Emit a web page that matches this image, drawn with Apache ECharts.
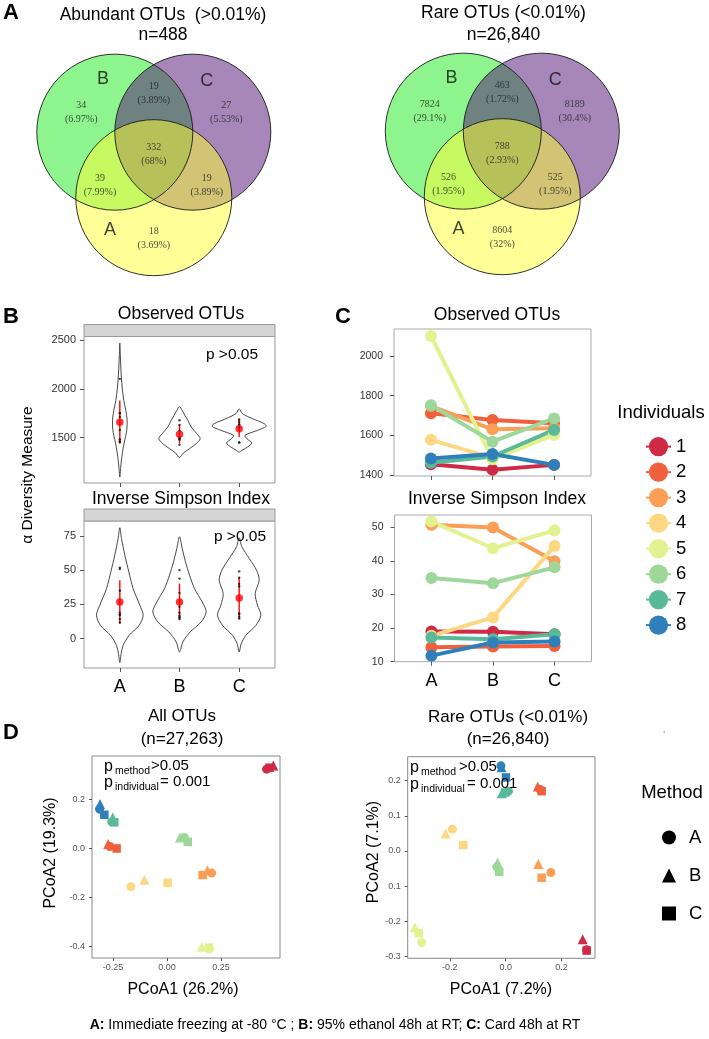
<!DOCTYPE html>
<html><head><meta charset="utf-8">
<script src="https://cdn.jsdelivr.net/npm/echarts@6/dist/echarts.min.js"></script>
<style>html,body{margin:0;padding:0;background:#fff}#c{width:709px;height:1039px}</style>
</head><body><div id="c"></div>
<script>
// ---------------- DATA ----------------
const methods = ['A', 'B', 'C'];
const individuals = ['1', '2', '3', '4', '5', '6', '7', '8'];

// Venn regions order: B only, B∩C, C only, A∩B, A∩B∩C, A∩C, A only
const abundantCounts = [34, 19, 27, 39, 332, 19, 18];
const abundantPct = ['6.97%', '3.89%', '5.53%', '7.99%', '68%', '3.89%', '3.69%'];
const rareCounts = [7824, 463, 8189, 526, 788, 525, 8604];
const rarePct = ['29.1%', '1.72%', '30.4%', '1.95%', '2.93%', '1.95%', '32%'];
const vennSetNames = ['B', 'C', 'A'];

// Panel C: one row per individual, values for methods A, B, C
const observedOTUs = [
  [1455, 1427, 1452],
  [1712, 1678, 1661],
  [1748, 1631, 1636],
  [1578, 1487, 1605],
  [2101, 1480, 1603],
  [1752, 1569, 1686],
  [1463, 1494, 1628],
  [1484, 1507, 1452]
];
const inverseSimpson = [
  [19.0, 18.9, 18.2],
  [14.3, 14.5, 14.7],
  [50.8, 50.0, 39.9],
  [17.7, 23.2, 44.5],
  [51.8, 43.8, 49.1],
  [34.9, 33.4, 38.1],
  [17.2, 16.7, 18.2],
  [11.8, 15.7, 16.0]
];

// Panel B violins: outline [value, half width] for methods A, B, C
const violinObserved = [
  [[2466,0],[2350,0.008],[2200,0.018],[2100,0.028],[2000,0.042],[1880,0.067],[1780,0.10],[1700,0.12],[1620,0.122],[1550,0.11],[1480,0.085],[1400,0.058],[1300,0.033],[1200,0.015],[1098,0]],
  [[1818,0],[1779,0.045],[1728,0.09],[1677,0.14],[1609,0.196],[1541,0.29],[1490,0.346],[1439,0.28],[1388,0.168],[1344,0.067],[1298,0]],
  [[1793,0],[1745,0.056],[1694,0.223],[1643,0.42],[1616,0.453],[1575,0.307],[1524,0.095],[1490,0.13],[1446,0.21],[1405,0.14],[1370,0.045],[1352,0]]
];
const violinInvSimpson = [
  [[80.9,0],[73.1,0.028],[60.9,0.084],[48.7,0.151],[36.5,0.223],[24.4,0.335],[17.1,0.391],[9.7,0.324],[2.4,0.156],[-4.9,0.056],[-11,0.022],[-17.5,0]],
  [[74.3,0],[65.8,0.045],[56,0.10],[46.3,0.168],[36.5,0.251],[26.8,0.38],[19.5,0.447],[12.2,0.363],[4.9,0.179],[-2.4,0.056],[-9.7,0]],
  [[73.6,0],[67,0.045],[58.5,0.168],[50,0.29],[42.6,0.335],[32.9,0.268],[24.4,0.307],[17.1,0.363],[9.7,0.28],[2.4,0.112],[-3.7,0.034],[-9.7,0]]
];
// mean, lower, upper for A, B, C
const meanSdObserved = [[1659, 1439, 1880], [1534, 1439, 1633], [1592, 1506, 1694]];
const meanSdInvSimpson = [[26.8, 11, 42.6], [26.8, 13.4, 40.2], [29.7, 14.6, 45]];

// Panel D: PCoA coordinates per method, rows = individuals 1..8
const pcoaAllA = [[0.461,0.325],[-0.264,0.008],[0.207,-0.101],[-0.167,-0.157],[0.196,-0.412],[0.080,0.045],[-0.256,0.109],[-0.312,0.161]];
const pcoaAllB = [[0.492,0.340],[-0.272,0.018],[0.187,-0.089],[-0.105,-0.128],[0.161,-0.403],[0.060,0.045],[-0.251,0.127],[-0.310,0.182]];
const pcoaAllC = [[0.475,0.331],[-0.233,0.000],[0.165,-0.109],[0.003,-0.141],[0.194,-0.406],[0.096,0.027],[-0.244,0.107],[-0.290,0.138]];
const pcoaRareA = [[0.290,-0.281],[0.123,0.175],[0.162,-0.061],[-0.191,0.062],[-0.301,-0.260],[-0.032,-0.045],[0.010,0.170],[-0.017,0.242]];
const pcoaRareB = [[0.276,-0.251],[0.115,0.183],[0.117,-0.037],[-0.215,0.050],[-0.325,-0.217],[-0.029,-0.033],[-0.014,0.164],[-0.015,0.238]];
const pcoaRareC = [[0.290,-0.283],[0.129,0.170],[0.129,-0.076],[-0.152,0.017],[-0.311,-0.234],[-0.023,-0.059],[-0.002,0.166],[0.001,0.209]];

// Tick values and labels
const obsBTicks = [1500, 2000, 2500];
const invBTicks = [0, 25, 50, 75];
const obsCTicks = [1400, 1600, 1800, 2000];
const invCTicks = [10, 20, 30, 40, 50];
const allXTicks = [-0.25, 0, 0.25];
const allXLabels = ['-0.25', '0.00', '0.25'];
const allYTicks = [-0.4, -0.2, 0, 0.2];
const allYLabels = ['-0.4', '-0.2', '0.0', '0.2'];
const rareXTicks = [-0.2, 0, 0.2];
const rareXLabels = ['-0.2', '0.0', '0.2'];
const rareYTicks = [-0.3, -0.2, -0.1, 0, 0.1, 0.2];
const rareYLabels = ['-0.3', '-0.2', '0.1', '0.0', '0.1', '0.2'];

// ---------------- STYLE / LAYOUT ----------------
const FONT = '"Liberation Sans", Arial, Helvetica, sans-serif';
const SERIF = '"Liberation Serif", "Times New Roman", serif';
const indColors = ['#CF2A45', '#F0603C', '#FA9F55', '#FDD782', '#E3F290', '#9ED79A', '#58BA98', '#2F80BA'];
const vennFills = ['rgba(30,235,30,0.5)', 'rgba(80,15,115,0.5)', 'rgba(255,255,50,0.5)'];
const vennCenters = [[-0.5, 0.28], [0.5, 0.28], [0, -0.56]];
const vennRegionPos = [[-0.93, 0.53], [0, 0.78], [0.93, 0.53], [-0.69, -0.40], [0, 0], [0.68, -0.40], [0, -1.08]];
const vennLetterPos = [[-0.65, 0.96], [0.68, 0.93], [-0.56, -0.98]];
const methodSymbols = ['circle', 'triangle', 'rect'];
const methodSizes = [9, 10, 8.5];

function lookup(values, labels) {
  return v => { const i = values.findIndex(t => Math.abs(t - v) < 1e-9); return i < 0 ? '' : labels[i]; };
}

const gridBase = { show: true, borderColor: '#9a9a9a', borderWidth: 1, backgroundColor: 'transparent', containLabel: false, outerBoundsMode: 'none' };
const grid = [
  { left: 13.4, top: 13.6, width: 280.8, height: 280.8, show: false, containLabel: false, outerBoundsMode: 'none' },
  { left: 361.9, top: 12.6, width: 280.8, height: 280.8, show: false, containLabel: false, outerBoundsMode: 'none' },
  Object.assign({ left: 84, top: 336.5, width: 191, height: 146.5 }, gridBase),
  Object.assign({ left: 84, top: 521, width: 191, height: 147 }, gridBase),
  Object.assign({ left: 394, top: 329, width: 197, height: 147 }, gridBase, { borderColor: '#aaa' }),
  Object.assign({ left: 394.5, top: 515, width: 197, height: 146.7 }, gridBase, { borderColor: '#aaa' }),
  Object.assign({ left: 92, top: 756, width: 188, height: 202 }, gridBase, { borderColor: '#888' }),
  Object.assign({ left: 407.7, top: 756.7, width: 187.3, height: 201.6 }, gridBase, { borderColor: '#888' })
];

function hiddenAxis(gi) { return { gridIndex: gi, type: 'value', min: -1.8, max: 1.8, show: false }; }
function methodXAxis(gi, showLabels) {
  return {
    gridIndex: gi, type: 'value', min: 0.4, max: 3.6,
    axisLine: { show: false, onZero: false }, splitLine: { show: false },
    axisTick: { show: true, customValues: [1, 2, 3], length: 4, lineStyle: { color: '#555' } },
    axisLabel: { show: showLabels, customValues: [1, 2, 3], formatter: v => methods[Math.round(v) - 1], fontSize: 18, color: '#000', margin: 10, fontFamily: FONT }
  };
}
function valAxis(gi, min, max, ticks, fmt, size, color, margin, tickLen) {
  return {
    gridIndex: gi, type: 'value', min, max,
    axisLine: { show: false, onZero: false }, splitLine: { show: false },
    axisTick: { show: true, customValues: ticks, length: tickLen, lineStyle: { color: '#555' } },
    axisLabel: { customValues: ticks, formatter: fmt, fontSize: size, color, margin, fontFamily: FONT }
  };
}

const xAxis = [
  hiddenAxis(0), hiddenAxis(1),
  methodXAxis(2, false), methodXAxis(3, true),
  methodXAxis(4, false), methodXAxis(5, true),
  valAxis(6, -0.347, 0.523, allXTicks, lookup(allXTicks, allXLabels), 9, '#555', 5, 3),
  valAxis(7, -0.351, 0.320, rareXTicks, lookup(rareXTicks, rareXLabels), 9, '#555', 5, 3)
];
const yAxis = [
  hiddenAxis(0), hiddenAxis(1),
  valAxis(2, 1037, 2534, obsBTicks, v => String(v), 11, '#333', 8, 4),
  valAxis(3, -21.4, 85.8, invBTicks, v => String(v), 11, '#333', 8, 4),
  valAxis(4, 1396, 2136, obsCTicks, v => String(v), 10.5, '#333', 11, 4),
  valAxis(5, 10, 53.7, invCTicks, v => String(v), 10.5, '#333', 11, 4),
  valAxis(6, -0.449, 0.379, allYTicks, lookup(allYTicks, allYLabels), 9, '#555', 7, 3),
  valAxis(7, -0.305, 0.268, rareYTicks, lookup(rareYTicks, rareYLabels), 9, '#555', 7, 3)
];

const series = [];

// ---- Venn diagrams ----
function addVenn(gi, counts, pct) {
  series.push({
    type: 'custom', xAxisIndex: gi, yAxisIndex: gi, silent: true, clip: false, z: 1,
    data: vennCenters.map((c, i) => [c[0], c[1], i]),
    renderItem: (p, api) => {
      const c = api.coord([api.value(0), api.value(1)]);
      const r = api.size([1, 1])[0];
      return { type: 'circle', shape: { cx: c[0], cy: c[1], r }, style: { fill: vennFills[api.value(2)] } };
    }
  });
  series.push({
    type: 'custom', xAxisIndex: gi, yAxisIndex: gi, silent: true, clip: false, z: 2,
    data: vennCenters.map((c, i) => [c[0], c[1], i]),
    renderItem: (p, api) => {
      const c = api.coord([api.value(0), api.value(1)]);
      const r = api.size([1, 1])[0];
      return { type: 'circle', shape: { cx: c[0], cy: c[1], r }, style: { fill: 'none', stroke: '#1a1a1a', lineWidth: 0.9 } };
    }
  });
  series.push({
    type: 'scatter', name: 'venn-regions', xAxisIndex: gi, yAxisIndex: gi, silent: true, z: 3,
    symbolSize: 1, itemStyle: { color: 'transparent' },
    data: vennRegionPos.map((p, i) => ({ value: p, label: { formatter: counts[i] + '\n(' + pct[i] + ')' } })),
    label: { show: true, position: 'inside', fontFamily: SERIF, fontSize: 10, lineHeight: 14, color: '#222' }
  });
  series.push({
    type: 'scatter', name: 'venn-sets', xAxisIndex: gi, yAxisIndex: gi, silent: true, z: 3,
    symbolSize: 1, itemStyle: { color: 'transparent' },
    data: vennLetterPos.map((p, i) => ({ value: p, label: { formatter: vennSetNames[i] } })),
    label: { show: true, position: 'inside', fontFamily: FONT, fontSize: 18, color: '#111' }
  });
}
addVenn(0, abundantCounts, abundantPct);
addVenn(1, rareCounts, rarePct);

// ---- Violin panels ----
function addViolins(gi, outlines, meanSd, values) {
  series.push({
    type: 'custom', xAxisIndex: gi, yAxisIndex: gi, silent: true, clip: false,
    data: meanSd.map((m, i) => [i + 1, m[0]]),
    renderItem: (p, api) => {
      const o = outlines[p.dataIndex];
      const cx = api.value(0);
      const right = o.map(([v, hw]) => api.coord([cx + hw, v]));
      const left = o.slice(1, -1).reverse().map(([v, hw]) => api.coord([cx - hw, v]));
      return { type: 'polygon', shape: { points: right.concat(left), smooth: 0.3 }, style: { fill: 'none', stroke: '#333', lineWidth: 0.9 } };
    }
  });
  series.push({
    type: 'custom', xAxisIndex: gi, yAxisIndex: gi, silent: true, clip: false,
    data: meanSd.map((m, i) => [i + 1, m[0], m[1], m[2]]),
    renderItem: (p, api) => {
      const x = api.value(0);
      const lo = api.coord([x, api.value(2)]);
      const hi = api.coord([x, api.value(3)]);
      return { type: 'line', shape: { x1: lo[0], y1: lo[1], x2: hi[0], y2: hi[1] }, style: { stroke: '#f00', lineWidth: 1.4 } };
    }
  });
  const dots = [];
  values.forEach(row => row.forEach((v, j) => dots.push([j + 1, v])));
  series.push({
    type: 'scatter', name: 'dots', xAxisIndex: gi, yAxisIndex: gi, silent: true,
    symbolSize: 2.4, itemStyle: { color: '#111' }, data: dots
  });
  series.push({
    type: 'scatter', name: 'mean', xAxisIndex: gi, yAxisIndex: gi, silent: true,
    symbolSize: 7.5, itemStyle: { color: '#f00' }, data: meanSd.map((m, i) => [i + 1, m[0]])
  });
}
addViolins(2, violinObserved, meanSdObserved, observedOTUs);
addViolins(3, violinInvSimpson, meanSdInvSimpson, inverseSimpson);

// ---- Line panels ----
function addLines(gi, values) {
  values.forEach((row, i) => {
    series.push({
      type: 'line', name: individuals[i], xAxisIndex: gi, yAxisIndex: gi, silent: true,
      data: row.map((v, j) => [j + 1, v]),
      symbol: 'circle', symbolSize: 12, showSymbol: true,
      lineStyle: { width: 4, color: indColors[i] },
      itemStyle: { color: indColors[i] }
    });
  });
}
addLines(4, observedOTUs);
addLines(5, inverseSimpson);

// ---- PCoA panels ----
function addPcoa(gi, sets) {
  sets.forEach((pts, m) => {
    series.push({
      type: 'scatter', name: methods[m], xAxisIndex: gi, yAxisIndex: gi, silent: true,
      symbol: methodSymbols[m], symbolSize: methodSizes[m],
      data: pts.map((p, i) => [p[0], p[1], i]),
      itemStyle: { color: p => indColors[p.value[2]], opacity: 1 }
    });
  });
}
addPcoa(6, [pcoaAllA, pcoaAllB, pcoaAllC]);
addPcoa(7, [pcoaRareA, pcoaRareB, pcoaRareC]);

// ---- Text / decorations ----
function txt(x, y, text, size, o) {
  o = o || {};
  return {
    type: 'text', x, y, rotation: o.rot || 0, z: 100, silent: true,
    style: {
      text, x: 0, y: 0, fill: o.color || '#000', fontSize: size, fontFamily: o.family || FONT,
      fontWeight: o.weight || 'normal', align: o.align || 'center', verticalAlign: o.va || 'middle'
    }
  };
}
const graphic = [
  { type: 'rect', silent: true, z: 50, shape: { x: 84, y: 324.5, width: 191, height: 12 }, style: { fill: '#d4d4d4', stroke: '#9a9a9a', lineWidth: 1 } },
  { type: 'rect', silent: true, z: 50, shape: { x: 84, y: 509, width: 191, height: 12 }, style: { fill: '#d4d4d4', stroke: '#9a9a9a', lineWidth: 1 } },
  txt(11, 13, 'A', 22, { weight: 'bold' }),
  txt(11, 317, 'B', 22, { weight: 'bold' }),
  txt(343, 317, 'C', 22, { weight: 'bold' }),
  txt(11, 733, 'D', 22, { weight: 'bold' }),
  txt(163, 15, 'Abundant OTUs  (>0.01%)', 17.5),
  txt(163, 35, 'n=488', 17.5),
  txt(503.5, 13, 'Rare OTUs (<0.01%)', 17.5),
  txt(503.5, 35, 'n=26,840', 17.5),
  txt(181, 314, 'Observed OTUs', 17.5),
  txt(181, 499, 'Inverse Simpson Index', 17.5),
  txt(497, 315, 'Observed OTUs', 17.5),
  txt(497, 499, 'Inverse Simpson Index', 17.5),
  txt(232, 355, 'p >0.05', 15.5),
  txt(240, 537, 'p >0.05', 15.5),
  txt(28, 475, 'α Diversity Measure', 15.5, { rot: Math.PI / 2 }),
  txt(661, 413, 'Individuals', 18.5),
  txt(672, 793, 'Method', 18.5),
  txt(182, 716, 'All OTUs', 17),
  txt(182, 739, '(n=27,263)', 17),
  txt(508, 717, 'Rare OTUs (<0.01%)', 17),
  txt(508, 739, '(n=26,840)', 17),
  txt(51, 853, 'PCoA2 (19.3%)', 16, { rot: Math.PI / 2 }),
  txt(374, 852, 'PCoA2 (7.1%)', 16, { rot: Math.PI / 2 }),
  txt(183, 990, 'PCoA1 (26.2%)', 16),
  txt(501, 990, 'PCoA1 (7.2%)', 16),
  txt(664, 735, "'", 9, { color: '#777' }),
  // p-values in PCoA panels
  txt(104, 767, 'p', 16, { align: 'left' }),
  txt(115, 771, 'method', 10.5, { align: 'left' }),
  txt(151, 766, '>0.05', 15, { align: 'left' }),
  txt(104, 783, 'p', 16, { align: 'left' }),
  txt(115, 787, 'individual', 10.5, { align: 'left' }),
  txt(160, 782, '= 0.001', 15, { align: 'left' }),
  txt(410, 768, 'p', 16, { align: 'left' }),
  txt(421, 772, 'method', 10.5, { align: 'left' }),
  txt(459, 767, '>0.05', 15, { align: 'left' }),
  txt(410, 785, 'p', 16, { align: 'left' }),
  txt(421, 789, 'individual', 10.5, { align: 'left' }),
  txt(467, 784, '= 0.001', 15, { align: 'left' }),
  {
    type: 'text', x: 335, y: 1025, z: 100, silent: true,
    style: {
      text: '{b|A:} Immediate freezing at -80 °C ; {b|B:} 95% ethanol 48h at RT; {b|C:} Card 48h at RT',
      x: 0, y: 0, fill: '#000', fontSize: 14, fontFamily: FONT, align: 'center', verticalAlign: 'middle',
      rich: { b: { fontWeight: 'bold', fontSize: 14, fontFamily: FONT, fill: '#000' } }
    }
  }
];

const legend = [
  {
    data: individuals, orient: 'vertical', left: 645, top: 437, itemWidth: 25, itemHeight: 24, itemGap: 6.3,
    selectedMode: false, padding: 0, textStyle: { fontSize: 18.5, color: '#000', fontFamily: FONT }
  },
  {
    data: methods, orient: 'vertical', left: 662, top: 828, itemWidth: 14, itemHeight: 14, itemGap: 19,
    selectedMode: false, padding: 0, itemStyle: { color: '#000' },
    textStyle: { fontSize: 18.5, color: '#000', fontFamily: FONT, padding: [0, 0, 0, 8] }
  }
];

const chart = echarts.init(document.getElementById('c'), null, { renderer: 'canvas' });
chart.setOption({
  animation: false,
  backgroundColor: '#fff',
  textStyle: { fontFamily: FONT },
  grid, xAxis, yAxis, series, graphic, legend
});
</script></body></html>
